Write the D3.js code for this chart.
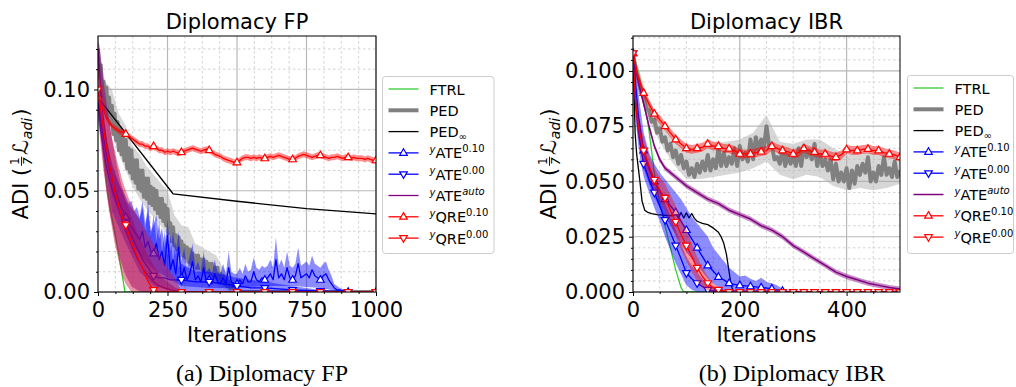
<!DOCTYPE html>
<html>
<head>
<meta charset="utf-8">
<script src="https://cdn.jsdelivr.net/npm/d3@7"></script>
<style>
  body { margin: 0; background: #fff; }
  text { font-family: "DejaVu Sans", sans-serif; }
</style>
</head>
<body>
<svg id="fig" width="1016" height="387"></svg>
<script>
// ---------- Diplomacy FP (left panel) ----------
var fpFtrlX = [0,10,20,30,40,50,60,70,80,90,97,1000];
var fpFtrl  = [0.100,0.085,0.070,0.055,0.045,0.037,0.030,0.022,0.014,0.006,0,0];

var fpPedX = d3.range(0, 505, 5).concat([1000]);
var fpPed = [0.120,0.106,0.112,0.097,0.104,0.090,0.101,0.086,0.096,0.083,
  0.092,0.078,0.088,0.075,0.084,0.070,0.081,0.068,0.077,0.065,
  0.075,0.061,0.071,0.059,0.070,0.056,0.065,0.054,0.065,0.051,
  0.060,0.050,0.060,0.047,0.056,0.046,0.056,0.044,0.052,0.043,
  0.051,0.041,0.050,0.039,0.046,0.037,0.046,0.035,0.043,0.033,
  0.041,0.029,0.034,0.025,0.032,0.023,0.028,0.021,0.027,0.020,
  0.025,0.018,0.023,0.017,0.022,0.015,0.021,0.014,0.019,0.014,
  0.018,0.012,0.018,0.012,0.016,0.011,0.016,0.010,0.015,0.010,
  0.014,0.009,0.014,0.008,0.012,0.007,0.012,0.006,0.009,0.005,
  0.008,0.004,0.006,0.003,0.005,0.002,0.004,0.002,0.003,0.001,
  0, 0];
var fpPedBandX = d3.range(0, 550, 25);
var fpPedHi = [0.122,0.104,0.100,0.088,0.082,0.072,0.068,0.062,0.058,0.054,0.050,0.038,0.033,0.032,0.024,0.022,0.020,0.018,0.012,0.006,0.003,0];
var fpPedLo = [0.108,0.088,0.078,0.068,0.060,0.052,0.046,0.041,0.037,0.033,0.028,0.021,0.016,0.013,0.010,0.008,0.006,0.004,0.002,0,0,0];

var fpPedInfX = [0,270,500,750,1000];
var fpPedInf  = [0.096,0.0485,0.0448,0.0412,0.0386];

var fpAte10X = d3.range(0, 910, 10).concat([1000]);
var fpAte10 = [0.098,0.085,0.076,0.068,0.062,0.056,0.051,0.047,0.043,0.040,
  0.037,0.034,0.032,0.030,0.028,0.026,0.030,0.022,0.025,0.020,
  0.019,0.024,0.016,0.020,0.013,0.028,0.011,0.016,0.009,0.022,
  0.007,0.012,0.006,0.009,0.015,0.006,0.008,0.005,0.012,0.005,
  0.006,0.004,0.009,0.005,0.004,0.007,0.004,0.012,0.005,0.004,
  0.004,0.006,0.004,0.008,0.005,0.005,0.010,0.006,0.005,0.007,
  0.006,0.007,0.009,0.006,0.016,0.007,0.009,0.006,0.012,0.007,
  0.006,0.008,0.014,0.007,0.008,0.009,0.007,0.011,0.008,0.007,
  0.006,0.008,0.009,0.006,0.004,0.002,0.001,0.001,0.0005,0.0005,
  0, 0];
var fpAte10Hi = [0.100,0.090,0.082,0.075,0.070,0.064,0.060,0.056,0.052,0.050,
  0.047,0.044,0.045,0.040,0.042,0.037,0.045,0.034,0.040,0.030,
  0.033,0.038,0.026,0.032,0.022,0.036,0.020,0.030,0.018,0.030,
  0.015,0.022,0.012,0.018,0.024,0.012,0.015,0.010,0.020,0.010,
  0.012,0.009,0.016,0.010,0.009,0.014,0.009,0.020,0.010,0.009,
  0.009,0.012,0.009,0.014,0.010,0.011,0.017,0.012,0.011,0.013,
  0.012,0.013,0.016,0.012,0.027,0.013,0.016,0.012,0.020,0.013,
  0.012,0.014,0.022,0.013,0.014,0.015,0.013,0.018,0.014,0.013,
  0.012,0.014,0.015,0.011,0.008,0.004,0.003,0.002,0.0015,0.001,
  0, 0];
var fpAte10LoX = [0,50,100,150,200,250,300,400,500,600,700,800,840,860,1000];
var fpAte10Lo  = [0.090,0.048,0.029,0.018,0.011,0.007,0.003,0.002,0.002,0.003,0.003,0.002,0.001,0,0];

var fpAte00X = [0,10,20,30,40,50,60,70,80,90,100,110,120,130,140,150,160,170,180,190,200,220,240,260,280,300,350,400,450,500,550,600,700,800,900,1000];
var fpAte00  = [0.095,0.080,0.070,0.062,0.056,0.051,0.047,0.043,0.040,0.037,0.034,0.031,0.028,0.025,0.022,0.019,0.016,0.014,0.012,0.010,0.008,0.007,0.007,0.006,0.006,0.006,0.005,0.005,0.004,0.003,0.002,0.002,0.001,0.0005,0,0];
var fpAte00HiX = [0,50,100,150,160,170,180,190,200,210,220,230,240,250,260,270,280,290,300,350,400,500,600,700,800,900];
var fpAte00Hi  = [0.100,0.062,0.045,0.036,0.042,0.030,0.045,0.028,0.038,0.025,0.035,0.020,0.030,0.018,0.028,0.015,0.025,0.012,0.014,0.010,0.010,0.007,0.005,0.003,0.001,0];
var fpAte00LoX = [0,50,100,150,200,250,300,1000];
var fpAte00Lo  = [0.085,0.040,0.024,0.010,0.003,0.001,0,0];

var fpAutoX  = [0,5,10,15,20,30,40,50,60,70,80,90,100,120,140,160,180,200,220,240,260,280,300,320,1000];
var fpAuto   = [0.120,0.110,0.100,0.092,0.085,0.074,0.065,0.057,0.050,0.044,0.039,0.034,0.030,0.023,0.017,0.012,0.008,0.005,0.003,0.002,0.001,0.0005,0.0002,0,0];
var fpAutoHi = [0.124,0.122,0.116,0.110,0.104,0.094,0.085,0.076,0.068,0.061,0.055,0.050,0.045,0.037,0.030,0.024,0.018,0.013,0.009,0.006,0.004,0.002,0.001,0,0];
var fpAutoLo = [0.110,0.092,0.080,0.070,0.062,0.050,0.041,0.034,0.027,0.021,0.016,0.012,0.008,0.003,0.001,0,0,0,0,0,0,0,0,0,0];

var fpQre10X = d3.range(0, 1010, 10);
var fpQre10 = [0.096,0.092,0.090,0.086,0.084,0.082,0.081,0.080,0.079,0.079,
  0.078,0.077,0.076,0.075,0.074,0.073,0.073,0.072,0.072,0.071,
  0.072,0.071,0.070,0.070,0.069,0.0695,0.069,0.0695,0.069,0.0685,
  0.069,0.0695,0.070,0.0705,0.071,0.0705,0.070,0.0695,0.070,0.0705,
  0.070,0.069,0.068,0.0675,0.067,0.066,0.0655,0.065,0.0645,0.064,
  0.064,0.065,0.066,0.0665,0.0665,0.066,0.0665,0.066,0.0665,0.066,
  0.066,0.0665,0.067,0.0665,0.067,0.0675,0.067,0.0665,0.066,0.0655,
  0.0655,0.066,0.067,0.0675,0.068,0.0675,0.067,0.0665,0.067,0.0675,
  0.0675,0.067,0.0665,0.066,0.0665,0.0665,0.067,0.0665,0.066,0.0665,
  0.0665,0.066,0.0665,0.066,0.066,0.066,0.0655,0.066,0.0655,0.065,
  0.065];
var fpQre10Spread = 0.0015;

var fpQre00X  = [0,10,20,30,40,50,60,70,80,90,100,120,140,160,180,200,220,240,260,280,300,400,500,600,700,800,900,1000];
var fpQre00   = [0.100,0.090,0.080,0.072,0.064,0.057,0.050,0.045,0.040,0.036,0.033,0.025,0.018,0.012,0.005,0.001,0,0,0,0,0,0,0,0,0,0,0,0];
var fpQre00Hi = [0.112,0.104,0.097,0.090,0.083,0.076,0.070,0.064,0.059,0.054,0.050,0.043,0.038,0.033,0.028,0.024,0.019,0.014,0.010,0.006,0,0,0,0,0,0,0,0];
var fpQre00Lo = [0.088,0.072,0.060,0.050,0.040,0.032,0.024,0.018,0.012,0.007,0.004,0,0,0,0,0,0,0,0,0,0,0,0,0,0,0,0,0];

// ---------- Diplomacy IBR (right panel) ----------
var ibrFtrlX = [0,10,20,30,40,50,60,70,80,90,95,500];
var ibrFtrl  = [0.108,0.100,0.089,0.073,0.054,0.040,0.030,0.020,0.010,0.002,0,0];

var ibrPedX = d3.range(0, 505, 5);
var ibrPed = [0.108,0.100,0.096,0.090,0.088,0.083,0.082,0.077,0.078,0.072,
  0.074,0.068,0.070,0.064,0.067,0.061,0.064,0.058,0.062,0.056,
  0.059,0.053,0.056,0.052,0.058,0.054,0.059,0.055,0.062,0.055,
  0.060,0.056,0.065,0.057,0.063,0.057,0.061,0.058,0.065,0.057,
  0.066,0.060,0.063,0.059,0.069,0.060,0.070,0.064,0.069,0.065,
  0.075,0.066,0.066,0.060,0.061,0.058,0.065,0.057,0.062,0.058,
  0.061,0.057,0.065,0.057,0.066,0.061,0.064,0.060,0.067,0.057,
  0.062,0.057,0.060,0.055,0.060,0.051,0.058,0.050,0.054,0.050,
  0.056,0.047,0.055,0.049,0.057,0.053,0.058,0.054,0.061,0.050,
  0.054,0.050,0.057,0.053,0.061,0.053,0.056,0.052,0.059,0.052,
  0.055];
var ibrPedBandX = d3.range(0, 525, 25);
var ibrPedHi = [0.109,0.090,0.077,0.069,0.064,0.065,0.067,0.068,0.069,0.072,0.080,0.068,0.067,0.069,0.069,0.065,0.062,0.063,0.063,0.063,0.060];
var ibrPedLo = [0.105,0.080,0.068,0.058,0.051,0.051,0.052,0.053,0.054,0.056,0.059,0.053,0.051,0.053,0.052,0.048,0.046,0.047,0.046,0.047,0.049];

var ibrPedInfX = [0,2,4,7,10,13,17,22,28,35,45,55,65,75,80,85,90,95,100,105,110,115,120,130,140,150,160,165,170,175,180,184,188,500];
var ibrPedInf  = [0.108,0.090,0.072,0.062,0.056,0.050,0.041,0.037,0.036,0.0355,0.035,0.0348,0.0346,0.0345,0.0355,0.0335,0.036,0.0335,0.0358,0.0335,0.0355,0.0333,0.032,0.031,0.0305,0.029,0.027,0.025,0.022,0.017,0.009,0.003,0,0];

var ibrAte10X  = d3.range(0, 300, 10);
var ibrAte10   = [0.108,0.080,0.064,0.056,0.050,0.046,0.042,0.039,0.036,0.032,0.028,0.024,0.020,0.016,0.012,0.0095,0.0068,0.0055,0.004,0.0035,0.003,0.0028,0.0025,0.0023,0.002,0.0018,0.0015,0.001,0.0005,0.0002];
var ibrAte10Hi = [0.110,0.090,0.072,0.063,0.058,0.054,0.051,0.048,0.045,0.042,0.038,0.034,0.031,0.028,0.025,0.020,0.017,0.014,0.011,0.009,0.007,0.0075,0.006,0.005,0.0065,0.0045,0.004,0.003,0.0015,0.0005];
var ibrAte10Lo = [0.105,0.070,0.056,0.049,0.043,0.038,0.034,0.030,0.026,0.022,0.018,0.015,0.012,0.009,0.006,0.004,0.002,0.001,0.0005,0,0,0,0,0,0,0,0,0,0,0];

var ibrAte00X  = [0,5,10,15,20,30,40,50,60,70,80,90,100,110,120,130,140,150,160,500];
var ibrAte00   = [0.108,0.085,0.073,0.065,0.058,0.051,0.045,0.039,0.0326,0.027,0.021,0.015,0.0086,0.006,0.004,0.0025,0.001,0.0005,0,0];
var ibrAte00Hi = [0.110,0.090,0.080,0.072,0.065,0.058,0.052,0.046,0.040,0.034,0.028,0.022,0.016,0.012,0.009,0.006,0.004,0.002,0.001,0];
var ibrAte00Lo = [0.105,0.078,0.066,0.058,0.052,0.045,0.038,0.032,0.025,0.019,0.013,0.008,0.003,0.001,0,0,0,0,0,0];

var ibrAutoX = [0,10,20,30,40,50,60,70,80,90,100,120,140,160,180,200,220,240,260,280,300,320,340,360,380,400,420,440,460,480,500];
var ibrAuto  = [0.108,0.095,0.085,0.075,0.066,0.060,0.056,0.054,0.052,0.050,0.048,0.045,0.042,0.040,0.037,0.035,0.033,0.030,0.028,0.025,0.021,0.018,0.015,0.012,0.009,0.007,0.0055,0.004,0.003,0.002,0.0013];
var ibrAutoSpread = 0.0012;

var ibrQre10X = d3.range(0, 510, 10);
var ibrQre10 = [0.108,0.097,0.090,0.085,0.0806,0.078,0.075,0.072,0.069,0.067,
  0.065,0.0645,0.065,0.0655,0.067,0.066,0.066,0.065,0.0648,0.064,
  0.0625,0.0625,0.0625,0.063,0.0635,0.064,0.066,0.065,0.064,0.0635,
  0.0625,0.063,0.065,0.064,0.0633,0.0625,0.0625,0.0615,0.061,0.062,
  0.0645,0.064,0.064,0.0645,0.0647,0.064,0.064,0.063,0.0625,0.062,
  0.061];
var ibrQre10Spread = 0.002;

var ibrQre00X  = [0,5,10,15,20,30,40,50,60,70,80,90,100,110,120,130,140,150,160,170].concat(d3.range(180, 510, 20));
var ibrQre00   = [0.108,0.085,0.075,0.069,0.064,0.057,0.0507,0.046,0.0426,0.037,0.0317,0.026,0.021,0.016,0.011,0.007,0.004,0.002,0.001,0.0005,
  0,0,0,0,0,0,0,0,0,0,0,0,0,0,0,0,0];
var ibrQre00Hi = [0.110,0.090,0.080,0.075,0.070,0.062,0.056,0.052,0.049,0.044,0.039,0.033,0.028,0.022,0.016,0.011,0.007,0.004,0.002,0.001,
  0,0,0,0,0,0,0,0,0,0,0,0,0,0,0,0,0];
var ibrQre00Lo = [0.106,0.080,0.070,0.063,0.058,0.052,0.046,0.041,0.037,0.031,0.025,0.019,0.014,0.009,0.005,0.002,0.0008,0,0,0,
  0,0,0,0,0,0,0,0,0,0,0,0,0,0,0,0,0];

// legend text pieces
var legendPre  = ["", "", "", "y", "y", "y", "y", "y"];
var legendBase = ["FTRL", "PED", "PED", "ATE", "ATE", "ATE", "QRE", "QRE"];
var legendSub  = ["", "", "\u221e", "", "", "", "", ""];
var legendSup  = ["", "", "", "0.10", "0.00", "auto", "0.10", "0.00"];

var svg = d3.select("#fig");

var green = "#33cc33", gray = "#808080", blue = "#0000ff", purple = "#800080", red = "#ff0000";

function spreadBand(vals, w, side) {
  return vals.map(function(v) { return side > 0 ? v + w : Math.max(0, v - w); });
}

function tri(down) {
  return down ? "M0,4.2L3.8,-2.4L-3.8,-2.4Z" : "M0,-4.2L3.8,2.4L-3.8,2.4Z";
}

function drawPanel(p) {
  var x = d3.scaleLinear().domain([0, p.xMax]).range([p.left, p.right]);
  var y = d3.scaleLinear().domain([0, p.yMax]).range([p.bottom, p.top]);
  var g = svg.append("g");

  svg.append("clipPath").attr("id", p.id)
    .append("rect").attr("x", p.left).attr("y", p.top)
    .attr("width", p.right - p.left).attr("height", p.bottom - p.top);

  // grid
  var grid = g.append("g");
  grid.selectAll(".gxm").data(p.xMinor).enter().append("line")
    .attr("x1", function(d) { return x(d); }).attr("x2", function(d) { return x(d); })
    .attr("y1", p.top).attr("y2", p.bottom)
    .attr("stroke", "#c8c8c8").attr("stroke-width", 0.8).attr("stroke-dasharray", "2.5,2.5");
  grid.selectAll(".gym").data(p.yMinor).enter().append("line")
    .attr("y1", function(d) { return y(d); }).attr("y2", function(d) { return y(d); })
    .attr("x1", p.left).attr("x2", p.right)
    .attr("stroke", "#c8c8c8").attr("stroke-width", 0.8).attr("stroke-dasharray", "2.5,2.5");
  grid.selectAll(".gx").data(p.xTicks).enter().append("line")
    .attr("x1", function(d) { return x(d); }).attr("x2", function(d) { return x(d); })
    .attr("y1", p.top).attr("y2", p.bottom)
    .attr("stroke", "#b8b8b8").attr("stroke-width", 1.2);
  grid.selectAll(".gy").data(p.yTicks).enter().append("line")
    .attr("y1", function(d) { return y(d); }).attr("y2", function(d) { return y(d); })
    .attr("x1", p.left).attr("x2", p.right)
    .attr("stroke", "#b8b8b8").attr("stroke-width", 1.2);

  // series
  var line = d3.line().x(function(d) { return x(d[0]); }).y(function(d) { return y(d[1]); });
  p.series.forEach(function(s) {
    var layer = g.append("g").attr("clip-path", "url(#" + p.id + ")");
    if (s.hi) {
      var up = s.hiX.map(function(v, i) { return [x(v), y(s.hi[i])]; });
      var dn = s.loX.map(function(v, i) { return [x(v), y(s.lo[i])]; }).reverse();
      layer.append("path").attr("d", "M" + up.concat(dn).join("L") + "Z")
        .attr("fill", s.bandColor).attr("fill-opacity", s.bandOpacity).attr("stroke", "none");
    }
    var pts = s.x.map(function(v, i) { return [v, s.y[i]]; });
    layer.append("path").datum(pts).attr("d", line)
      .attr("fill", "none").attr("stroke", s.color).attr("stroke-width", s.width)
      .attr("stroke-linejoin", "round");
    if (s.marker) {
      layer.selectAll(null).data(pts.filter(function(d) { return d[0] % p.markEvery === 0; }))
        .enter().append("path")
        .attr("transform", function(d) { return "translate(" + x(d[0]) + "," + y(d[1]) + ")"; })
        .attr("d", tri(s.marker === "down"))
        .attr("fill", "#fff").attr("stroke", s.color).attr("stroke-width", 1.2);
    }
  });

  // axes
  var ax = g.append("g").attr("transform", "translate(0," + p.bottom + ")")
    .call(d3.axisBottom(x).tickValues(p.xTicks).tickSize(4).tickPadding(6).tickFormat(d3.format("d")));
  var axm = g.append("g").attr("transform", "translate(0," + p.bottom + ")")
    .call(d3.axisBottom(x).tickValues(p.xMinor).tickSize(2).tickFormat(""));
  var ay = g.append("g").attr("transform", "translate(" + p.left + ",0)")
    .call(d3.axisLeft(y).tickValues(p.yTicks).tickSize(4).tickPadding(4).tickFormat(d3.format(p.yFmt)));
  var aym = g.append("g").attr("transform", "translate(" + p.left + ",0)")
    .call(d3.axisLeft(y).tickValues(p.yMinor).tickSize(2).tickFormat(""));
  [ax, axm, ay, aym].forEach(function(a) {
    a.select(".domain").remove();
    a.selectAll("line").attr("stroke", "#000");
    a.selectAll("text").attr("font-size", 21).attr("fill", "#000")
      .style("font-family", "'DejaVu Sans'");
  });

  g.append("rect").attr("x", p.left).attr("y", p.top)
    .attr("width", p.right - p.left).attr("height", p.bottom - p.top)
    .attr("fill", "none").attr("stroke", "#000").attr("stroke-width", 1);

  // title and x label
  g.append("text").attr("x", (p.left + p.right) / 2).attr("y", 29)
    .attr("text-anchor", "middle").attr("font-size", 21).text(p.title);
  g.append("text").attr("x", (p.left + p.right) / 2).attr("y", 342)
    .attr("text-anchor", "middle").attr("font-size", 21).text("Iterations");

  drawYLabel(p.yLabelX, (p.top + p.bottom) / 2);
  drawLegend(p);

  svg.append("text").attr("x", p.capX).attr("y", 381).attr("text-anchor", "middle")
    .style("font-family", "'Liberation Serif', serif").attr("font-size", 24).text(p.caption);
}

function drawYLabel(bx, cy) {
  var g = svg.append("g");
  var inner = g.append("g");
  var pos = 0;
  function piece(str, size, dy, italic) {
    var t = inner.append("text").attr("x", pos).attr("y", dy).attr("font-size", size)
      .attr("font-style", italic ? "italic" : "normal").text(str);
    pos += t.node().getComputedTextLength();
    return t;
  }
  piece("ADI (", 21, 0, false);
  pos += 2;
  // fraction 1/7
  inner.append("text").attr("x", pos + 4.5).attr("y", -9).attr("text-anchor", "middle")
    .attr("font-size", 12).text("1");
  inner.append("line").attr("x1", pos).attr("x2", pos + 9).attr("y1", -6.5).attr("y2", -6.5)
    .attr("stroke", "#000").attr("stroke-width", 0.9);
  inner.append("text").attr("x", pos + 4.5).attr("y", 4).attr("text-anchor", "middle")
    .attr("font-size", 12).attr("font-style", "italic").text("7");
  pos += 11;
  piece("\u2112", 21, 0, true);
  pos += 0.5;
  piece("adi", 14, 4, true);
  pos += 1;
  piece(")", 21, 0, false);
  inner.attr("transform", "translate(" + (-pos / 2) + ",0)");
  g.attr("transform", "translate(" + bx + "," + cy + ") rotate(-90)");
}

function drawLegend(p) {
  var L = p.legend;
  var g = svg.append("g");
  g.append("rect").attr("x", L.x).attr("y", L.y).attr("width", L.w).attr("height", L.h)
    .attr("rx", 3).attr("fill", "#fff").attr("fill-opacity", 0.85)
    .attr("stroke", "#cccccc").attr("stroke-width", 1);
  p.series.forEach(function(s, i) {
    var ry = L.y + 12.5 + i * 21.3;
    g.append("line").attr("x1", L.x + 6).attr("x2", L.x + 36).attr("y1", ry).attr("y2", ry)
      .attr("stroke", s.color).attr("stroke-width", s.width);
    if (s.marker) {
      g.append("path").attr("transform", "translate(" + (L.x + 21) + "," + ry + ")")
        .attr("d", tri(s.marker === "down"))
        .attr("fill", "#fff").attr("stroke", s.color).attr("stroke-width", 1.2);
    }
    var t = g.append("text").attr("x", L.x + 47).attr("y", ry + 5.5).attr("font-size", 14.5);
    if (legendPre[i]) {
      t.append("tspan").attr("font-size", 10).attr("font-style", "italic").attr("dy", -5.5).text(legendPre[i]);
      t.append("tspan").attr("dy", 5.5).text(legendBase[i]);
    } else {
      t.append("tspan").text(legendBase[i]);
    }
    if (legendSub[i]) t.append("tspan").attr("font-size", 10).attr("dy", 3).text(legendSub[i]);
    if (legendSup[i]) t.append("tspan").attr("font-size", 10).attr("dy", -6)
      .attr("font-style", legendSup[i] === "auto" ? "italic" : "normal").text(legendSup[i]);
  });
}

drawPanel({
  id: "clipFP", left: 98, right: 376, top: 36, bottom: 292,
  xMax: 1000, yMax: 0.1264, markEvery: 100,
  xTicks: [0, 250, 500, 750, 1000], xMinor: d3.range(62.5, 1000, 62.5).filter(function(v) { return v % 250 !== 0; }),
  yTicks: [0, 0.05, 0.10], yMinor: [0.01, 0.02, 0.03, 0.04, 0.06, 0.07, 0.08, 0.09, 0.11, 0.12], yFmt: ".2f",
  title: "Diplomacy FP", caption: "(a) Diplomacy FP", capX: 262, yLabelX: 28,
  legend: {x: 382.5, y: 76.5, w: 111.5, h: 177},
  series: [
    {x: fpFtrlX, y: fpFtrl, color: green, width: 1.3},
    {x: fpPedX, y: fpPed, color: gray, width: 4, hiX: fpPedBandX, hi: fpPedHi, loX: fpPedBandX, lo: fpPedLo, bandColor: "#b0b0b0", bandOpacity: 0.5},
    {x: fpPedInfX, y: fpPedInf, color: "#000", width: 1.3},
    {x: fpAte10X, y: fpAte10, color: blue, width: 1.3, marker: "up", hiX: fpAte10X, hi: fpAte10Hi, loX: fpAte10LoX, lo: fpAte10Lo, bandColor: blue, bandOpacity: 0.45},
    {x: fpAte00X, y: fpAte00, color: blue, width: 1.3, marker: "down", hiX: fpAte00HiX, hi: fpAte00Hi, loX: fpAte00LoX, lo: fpAte00Lo, bandColor: blue, bandOpacity: 0.45},
    {x: fpAutoX, y: fpAuto, color: purple, width: 1.3, hiX: fpAutoX, hi: fpAutoHi, loX: fpAutoX, lo: fpAutoLo, bandColor: purple, bandOpacity: 0.5},
    {x: fpQre10X, y: fpQre10, color: red, width: 1.3, marker: "up", hiX: fpQre10X, hi: spreadBand(fpQre10, fpQre10Spread, 1), loX: fpQre10X, lo: spreadBand(fpQre10, fpQre10Spread, -1), bandColor: red, bandOpacity: 0.45},
    {x: fpQre00X, y: fpQre00, color: red, width: 1.3, marker: "down", hiX: fpQre00X, hi: fpQre00Hi, loX: fpQre00X, lo: fpQre00Lo, bandColor: "#d0103a", bandOpacity: 0.45}
  ]
});

drawPanel({
  id: "clipIBR", left: 633, right: 900, top: 36, bottom: 292,
  xMax: 500, yMax: 0.1158, markEvery: 20,
  xTicks: [0, 200, 400], xMinor: [50, 100, 150, 250, 300, 350, 450],
  yTicks: [0, 0.025, 0.05, 0.075, 0.1],
  yMinor: [0.005,0.01,0.015,0.02,0.03,0.035,0.04,0.045,0.055,0.06,0.065,0.07,0.08,0.085,0.09,0.095,0.105,0.11,0.115], yFmt: ".3f",
  title: "Diplomacy IBR", caption: "(b) Diplomacy IBR", capX: 792, yLabelX: 556,
  legend: {x: 907.5, y: 75.5, w: 106, h: 178},
  series: [
    {x: ibrFtrlX, y: ibrFtrl, color: green, width: 1.3},
    {x: ibrPedX, y: ibrPed, color: gray, width: 4, hiX: ibrPedBandX, hi: ibrPedHi, loX: ibrPedBandX, lo: ibrPedLo, bandColor: "#b0b0b0", bandOpacity: 0.5},
    {x: ibrPedInfX, y: ibrPedInf, color: "#000", width: 1.3},
    {x: ibrAte10X, y: ibrAte10, color: blue, width: 1.3, marker: "up", hiX: ibrAte10X, hi: ibrAte10Hi, loX: ibrAte10X, lo: ibrAte10Lo, bandColor: blue, bandOpacity: 0.45},
    {x: ibrAte00X, y: ibrAte00, color: blue, width: 1.3, marker: "down", hiX: ibrAte00X, hi: ibrAte00Hi, loX: ibrAte00X, lo: ibrAte00Lo, bandColor: blue, bandOpacity: 0.45},
    {x: ibrAutoX, y: ibrAuto, color: purple, width: 1.5, hiX: ibrAutoX, hi: spreadBand(ibrAuto, ibrAutoSpread, 1), loX: ibrAutoX, lo: spreadBand(ibrAuto, ibrAutoSpread, -1), bandColor: purple, bandOpacity: 0.45},
    {x: ibrQre10X, y: ibrQre10, color: red, width: 1.3, marker: "up", hiX: ibrQre10X, hi: spreadBand(ibrQre10, ibrQre10Spread, 1), loX: ibrQre10X, lo: spreadBand(ibrQre10, ibrQre10Spread, -1), bandColor: red, bandOpacity: 0.45},
    {x: ibrQre00X, y: ibrQre00, color: red, width: 1.3, marker: "down", hiX: ibrQre00X, hi: ibrQre00Hi, loX: ibrQre00X, lo: ibrQre00Lo, bandColor: red, bandOpacity: 0.4}
  ]
});
</script>
</body>
</html>
